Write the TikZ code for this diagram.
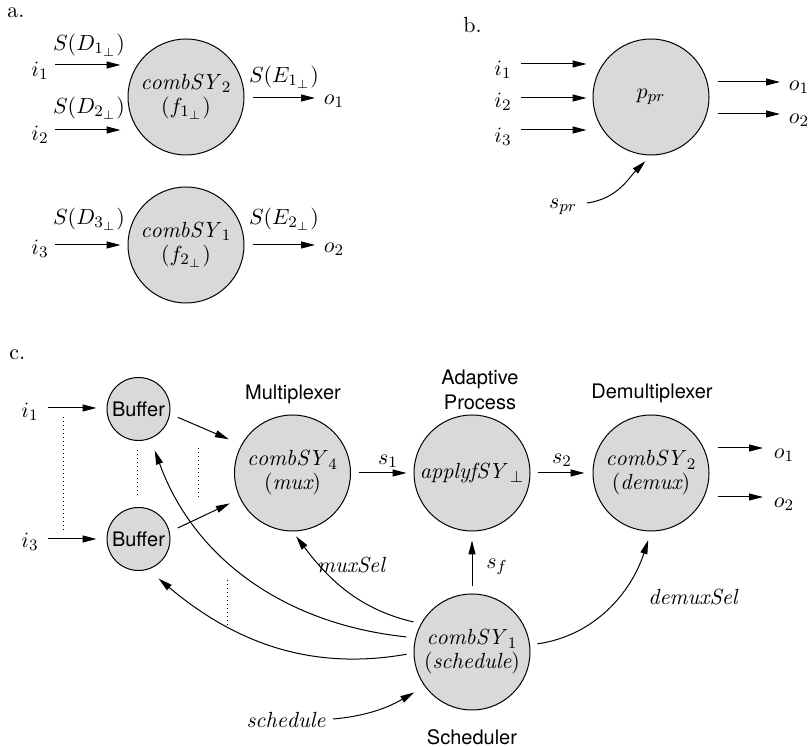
\documentclass[tikz,border=0pt]{standalone}
\usepackage{fontspec}
\newfontfamily\helv{TeX Gyre Heros}
\usetikzlibrary{arrows.meta}
\definecolor{procgray}{RGB}{217,217,217}
\newcommand{\mySY}[2]{\mathit{#1}\mkern3mu{}_{#2}}
\begin{document}
\begin{tikzpicture}[x=0.5pt,y=-0.5pt,
  font=\fontsize{10.95}{12}\selectfont,
  proc/.style={circle,draw,fill=procgray,line width=0.5pt,minimum size=58pt,inner sep=0pt,align=center},
  buf/.style={circle,draw,fill=procgray,line width=0.5pt,minimum size=31.5pt,inner sep=0pt,font=\helv\fontsize{10}{12}\selectfont},
  arr/.style={-{Triangle[length=7pt,width=3.5pt]},line width=0.5pt},
  dotline/.style={line width=0.5pt,dash pattern=on 0.5pt off 1.5pt},
  lbl/.style={inner sep=0pt},
  sflbl/.style={inner sep=0pt,font=\helv\fontsize{10}{12.5}\selectfont,align=center}]
\useasboundingbox (0,0) rectangle (810,747);

% ---------------- part a ----------------
\node[lbl,anchor=west] (la) at (7,13) {a.};
\node[proc] (A1) at (186,97) {$\mySY{combSY}{2}$\\$(f_{1_\bot})$};
\node[proc] (A2) at (186,245) {$\mySY{combSY}{1}$\\$(f_{2_\bot})$};
\node[lbl] (ai1) at (40,71) {$i_1$};
\node[lbl] (ai2) at (40,135) {$i_2$};
\node[lbl] (ai3) at (40,249) {$i_3$};
\node[lbl] (aD1) at (89,45) {$S(D_{1_\bot})$};
\node[lbl] (aD2) at (89,108) {$S(D_{2_\bot})$};
\node[lbl] (aD3) at (89,219) {$S(D_{3_\bot})$};
\node[lbl] (aE1) at (284,77) {$S(E_{1_\bot})$};
\node[lbl] (aE2) at (284,219) {$S(E_{2_\bot})$};
\node[lbl] (ao1) at (334,101) {$o_1$};
\node[lbl] (ao2) at (334,249) {$o_2$};
\coordinate (ai1s) at (55,65);
\coordinate (ai2s) at (55,130);
\coordinate (ai3s) at (55,245);
\coordinate (ao1e) at (315,98);
\coordinate (ao2e) at (315,245);
\draw[arr,shorten >=3.5pt] (ai1s) -- (ai1s -| A1.west);
\draw[arr,shorten >=3.5pt] (ai2s) -- (ai2s -| A1.west);
\draw[arr,shorten >=3.5pt] (ai3s) -- (ai3s -| A2.west);
\draw[arr,shorten <=4pt] (ao1e -| A1.east) -- (ao1e);
\draw[arr,shorten <=4pt] (ao2e -| A2.east) -- (ao2e);

% ---------------- part b ----------------
\node[lbl,anchor=west] (lb) at (463,25) {b.};
\node[proc] (P) at (651,97) {\raisebox{-3pt}{$p_{pr}$}};
\node[lbl] (bi1) at (503,70) {$i_1$};
\node[lbl] (bi2) at (503,102) {$i_2$};
\node[lbl] (bi3) at (503,137) {$i_3$};
\node[lbl] (bo1) at (799,87) {$o_1$};
\node[lbl] (bo2) at (799,120) {$o_2$};
\node[lbl] (bspr) at (563,207) {$s_{pr}$};
\coordinate (bi1s) at (521,64);
\coordinate (bi2s) at (521,98);
\coordinate (bi3s) at (521,130);
\coordinate (bo1e) at (780,82);
\coordinate (bo2e) at (780,114);
\coordinate (bsprs) at (587,203);
\draw[arr,shorten >=3pt] (bi1s) -- (bi1s -| P.west);
\draw[arr,shorten >=3pt] (bi2s) -- (bi2s -| P.west);
\draw[arr,shorten >=3pt] (bi3s) -- (bi3s -| P.west);
\draw[arr,shorten <=4pt] (bo1e -| P.east) -- (bo1e);
\draw[arr,shorten <=4pt] (bo2e -| P.east) -- (bo2e);
\draw[arr,shorten >=4pt] (bsprs) to[out=8,in=-135] (P.-90);

% ---------------- part c ----------------
\node[lbl,anchor=west] (lc) at (9,355) {c.};
\node[buf] (B1) at (138.5,409) {Buffer};
\node[buf] (B2) at (138.5,539) {Buffer};
\node[proc] (mux) at (292.5,473) {$\mySY{combSY}{4}$\\$(\mathit{mux})$};
\node[proc] (adapt) at (472,473) {$\mathit{applyfSY}\mkern4mu{}_\bot$};
\node[proc] (demux) at (651,473) {$\mySY{combSY}{2}$\\$(\mathit{demux})$};
\node[proc] (sched) at (472,652) {$\mySY{combSY}{1}$\\$(\mathit{schedule})$};
\node[sflbl] (tmux) at (293,394) {Multiplexer};
\node[sflbl] (tadapt) at (480,389.5) {Adaptive\\Process};
\node[sflbl] (tdemux) at (652,393) {Demultiplexer};
\node[sflbl] (tsched) at (472,737) {Scheduler};
\node[lbl] (ci1) at (30,412) {$i_1$};
\node[lbl] (ci3) at (30,542) {$i_3$};
\node[lbl] (co1) at (784,455) {$o_1$};
\node[lbl] (co2) at (784,504) {$o_2$};
\node[lbl] (ts1) at (388,461) {$s_1$};
\node[lbl] (ts2) at (562,460) {$s_2$};
\node[lbl] (tsf) at (497,567) {$s_f$};
\node[lbl] (tmuxsel) at (351,565) {$\mathit{muxSel}$};
\node[lbl] (tdemuxsel) at (693,597) {$\mathit{demuxSel}$};
\node[lbl] (tschedule) at (286,720) {$\mathit{schedule}$};
\coordinate (ci1s) at (48,408);
\coordinate (ci3s) at (48,539);
\coordinate (co1e) at (763,448);
\coordinate (co2e) at (763,497);
\coordinate (cschs) at (333,719);

\draw[arr,shorten >=5pt] (ci1s) -- (ci1s -| B1.west);
\draw[arr,shorten >=5pt] (ci3s) -- (ci3s -| B2.west);
\draw[arr,shorten <=4.2pt,shorten >=6.8pt] (B1.-9) -- (mux.151);
\draw[arr,shorten <=4.5pt,shorten >=5.6pt] (B2.13) -- (mux.206);
\draw[arr,shorten <=3.75pt,shorten >=3.5pt] (mux.east) -- (adapt.west);
\draw[arr,shorten <=3.5pt,shorten >=4pt] (adapt.east) -- (demux.west);
\draw[arr,shorten <=4pt] (co1e -| demux.east) -- (co1e);
\draw[arr,shorten <=4pt] (co2e -| demux.east) -- (co2e);
\draw[arr,shorten <=3.75pt,shorten >=4.5pt] (sched.north) -- (adapt.south);
\draw[arr,shorten <=3.7pt,shorten >=3pt] (sched.151) to[out=167,in=-53] (mux.-90);
\draw[arr,shorten <=4.5pt,shorten >=6.3pt] (sched.166) to[out=174,in=-70] (B1.-68);
\draw[arr,shorten <=3.5pt,shorten >=7pt] (sched.181) to[out=190,in=-40] (B2.-73);
\draw[arr,shorten <=3.7pt,shorten >=4.5pt] (sched.7) to[out=8,in=-108] (demux.-90);
\draw[arr,shorten >=6pt] (cschs) to[out=5,in=-150] (sched.216);

% dotted lines
\coordinate (d1a) at (63,417); \coordinate (d1b) at (63,530);
\coordinate (d2a) at (137,450); \coordinate (d2b) at (137,497);
\coordinate (d3a) at (198,448); \coordinate (d3b) at (198,497);
\coordinate (d4a) at (227,580); \coordinate (d4b) at (227,627);
\draw[dotline] (d1a) -- (d1b);
\draw[dotline] (d2a) -- (d2b);
\draw[dotline] (d3a) -- (d3b);
\draw[dotline] (d4a) -- (d4b);
\end{tikzpicture}
\end{document}
